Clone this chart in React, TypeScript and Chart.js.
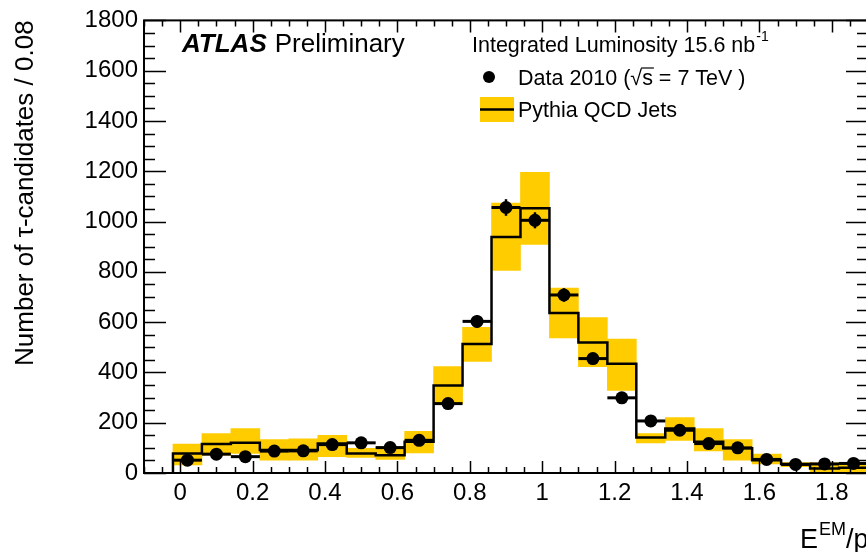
import React, { useEffect, useRef } from "react";
import { Chart, registerables } from "chart.js";

Chart.register(...registerables);

// ---- data ----
const binWidth = 0.08;
const binCenters = [
  0.02, 0.1, 0.18, 0.26, 0.34, 0.42, 0.5, 0.58, 0.66, 0.74, 0.82, 0.9,
  0.98, 1.06, 1.14, 1.22, 1.3, 1.38, 1.46, 1.54, 1.62, 1.7, 1.78, 1.86,
];
const mcValues = [
  78, 115, 120, 91, 91, 117, 78, 71, 124, 348, 513, 939,
  1053, 636, 519, 434, 141, 177, 124, 98, 51, 36, 18, 21,
];
const mcLow = [
  32, 71, 78, 51, 51, 65, 62, 54, 80, 276, 444, 806,
  909, 537, 423, 328, 120, 130, 88, 51, 36, 25, 5, 5,
];
const mcHigh = [
  115, 157, 177, 133, 136, 150, 98, 104, 166, 423, 579, 1073,
  1196, 735, 618, 533, 157, 220, 177, 133, 75, 41, 40, 40,
];
const dataValues = [
  51, 75, 65, 87, 88, 113, 120, 101, 130, 276, 603, 1056,
  1005, 708, 455, 299, 207, 170, 117, 100, 54, 34, 36, 38,
];
const dataErrors = [
  7, 9, 8, 9, 9, 11, 11, 10, 11, 17, 25, 33,
  32, 27, 21, 17, 14, 13, 11, 10, 7, 6, 6, 6,
];
const xTickValues = [0, 0.2, 0.4, 0.6, 0.8, 1, 1.2, 1.4, 1.6, 1.8];
const yTickValues = [0, 200, 400, 600, 800, 1000, 1200, 1400, 1600, 1800];

const FONT = "'Liberation Sans', Arial, Helvetica, sans-serif";
const YELLOW = "#ffcc00";
const CANVAS_W = 890;
const CANVAS_H = 552;

const framePlugin = {
  id: "rootFrame",
  afterDatasetsDraw(chart: any) {
    const { ctx, chartArea, scales } = chart;
    const { left, right, top, bottom } = chartArea;
    const x = scales.x;
    const y = scales.y;
    ctx.save();
    // data error bars
    ctx.strokeStyle = "#000";
    binCenters.forEach((c, i) => {
      const px = x.getPixelForValue(c);
      const py = y.getPixelForValue(dataValues[i]);
      ctx.lineWidth = 3;
      ctx.beginPath();
      ctx.moveTo(x.getPixelForValue(c - binWidth / 2), py);
      ctx.lineTo(x.getPixelForValue(c + binWidth / 2), py);
      ctx.stroke();
      ctx.lineWidth = 2.5;
      ctx.beginPath();
      ctx.moveTo(px, y.getPixelForValue(dataValues[i] - dataErrors[i]));
      ctx.lineTo(px, y.getPixelForValue(dataValues[i] + dataErrors[i]));
      ctx.stroke();
    });
    // frame
    ctx.lineWidth = 2;
    ctx.strokeRect(left, top, right - left, bottom - top);
    // ticks
    ctx.lineWidth = 1.5;
    ctx.beginPath();
    for (let k = -2; k <= 38; k++) {
      const v = k * 0.05;
      if (v < x.min - 1e-9 || v > x.max + 1e-9) continue;
      const px = Math.round(x.getPixelForValue(v)) + 0.5;
      const len = k % 4 === 0 ? 12 : 6;
      ctx.moveTo(px, bottom);
      ctx.lineTo(px, bottom - len);
      ctx.moveTo(px, top);
      ctx.lineTo(px, top + len);
    }
    for (let k = 0; k <= 36; k++) {
      const v = k * 50;
      const py = Math.round(y.getPixelForValue(v)) + 0.5;
      const len = k % 4 === 0 ? 22 : 11;
      ctx.moveTo(left, py);
      ctx.lineTo(left + len, py);
      ctx.moveTo(right, py);
      ctx.lineTo(right - len, py);
    }
    ctx.stroke();
    ctx.restore();
  },
};

const textPlugin = {
  id: "rootText",
  afterDraw(chart: any) {
    const ctx = chart.ctx;
    ctx.save();
    ctx.fillStyle = "#000";
    ctx.textAlign = "left";
    ctx.textBaseline = "alphabetic";

    // ATLAS Preliminary
    ctx.font = `italic bold 26px ${FONT}`;
    ctx.fillText("ATLAS", 182, 52);
    const aw = ctx.measureText("ATLAS").width;
    ctx.font = `26px ${FONT}`;
    ctx.fillText("Preliminary", 182 + aw + 8, 52);

    // luminosity
    ctx.font = `21.5px ${FONT}`;
    const lumi = "Integrated Luminosity 15.6 nb";
    ctx.fillText(lumi, 472, 52);
    const lw = ctx.measureText(lumi).width;
    ctx.font = `14px ${FONT}`;
    ctx.fillText("-1", 472 + lw + 1, 41);

    // legend: data
    ctx.beginPath();
    ctx.arc(489, 77, 6, 0, Math.PI * 2);
    ctx.fill();
    ctx.font = `21.5px ${FONT}`;
    const pre = "Data 2010 (";
    const full = "Data 2010 (\u221As = 7 TeV )";
    ctx.fillText(full, 518, 85);
    const wPre = ctx.measureText(pre + "\u221A").width;
    const wS = ctx.measureText("s").width;
    ctx.lineWidth = 1.2;
    ctx.beginPath();
    ctx.moveTo(518 + wPre - 1, 68);
    ctx.lineTo(518 + wPre + wS + 1, 68);
    ctx.stroke();

    // legend: MC
    ctx.fillStyle = YELLOW;
    ctx.fillRect(480, 97, 34, 25);
    ctx.strokeStyle = "#000";
    ctx.lineWidth = 2.5;
    ctx.beginPath();
    ctx.moveTo(480, 109.5);
    ctx.lineTo(514, 109.5);
    ctx.stroke();
    ctx.fillStyle = "#000";
    ctx.fillText("Pythia QCD Jets", 518, 117);

    // x-axis title
    ctx.font = `27px ${FONT}`;
    ctx.fillText("E", 800, 548);
    const ew = ctx.measureText("E").width;
    ctx.font = `18px ${FONT}`;
    ctx.fillText("EM", 800 + ew + 1, 535);
    const mw = ctx.measureText("EM").width;
    ctx.font = `27px ${FONT}`;
    ctx.fillText("/p", 800 + ew + 1 + mw, 548);
    ctx.restore();
  },
};

export default function App() {
  const ref = useRef<HTMLCanvasElement>(null);

  useEffect(() => {
    const canvas = ref.current;
    if (!canvas) return;
    const half = binWidth / 2;
    const mcPoints: { x: number; y: number }[] = [{ x: binCenters[0] - half, y: 0 }];
    binCenters.forEach((c, i) => mcPoints.push({ x: c - half, y: mcValues[i] }));
    const last = binCenters.length - 1;
    mcPoints.push({ x: binCenters[last] + half, y: mcValues[last] });

    const chart = new Chart(canvas, {
      type: "bar",
      data: {
        datasets: [
          {
            type: "bar",
            label: "MC band",
            data: binCenters.map((c, i) => ({ x: c, y: [mcLow[i], mcHigh[i]] })) as any,
            backgroundColor: YELLOW,
            borderWidth: 0,
            barPercentage: 1,
            categoryPercentage: 1,
            order: 3,
          } as any,
          {
            type: "line",
            label: "Pythia QCD Jets",
            data: mcPoints,
            stepped: true,
            borderColor: "#000",
            borderWidth: 2.5,
            pointRadius: 0,
            fill: false,
            order: 2,
          } as any,
          {
            type: "scatter",
            label: "Data 2010",
            data: binCenters.map((c, i) => ({ x: c, y: dataValues[i] })),
            pointRadius: 6.5,
            pointBackgroundColor: "#000",
            pointBorderWidth: 0,
            order: 1,
          } as any,
        ],
      },
      options: {
        responsive: false,
        animation: false,
        devicePixelRatio: 1,
        events: [],
        layout: { padding: { left: 0, top: 18, right: CANVAS_W - 868, bottom: 0 } },
        plugins: {
          legend: { display: false },
          tooltip: { enabled: false },
          title: { display: false },
        },
        scales: {
          x: {
            type: "linear",
            min: -0.1,
            max: 1.9,
            offset: false,
            grid: { display: false, drawTicks: false },
            border: { display: false },
            afterBuildTicks: (s: any) => {
              s.ticks = xTickValues.map((v) => ({ value: v }));
            },
            afterFit: (s: any) => {
              s.height = CANVAS_H - 473;
            },
            ticks: {
              autoSkip: false,
              maxRotation: 0,
              padding: 6,
              color: "#000",
              font: { family: FONT, size: 24 },
              callback: (v: any) => String(Math.round(Number(v) * 10) / 10),
            },
          },
          y: {
            type: "linear",
            min: 0,
            max: 1800,
            grid: { display: false, drawTicks: false },
            border: { display: false },
            afterBuildTicks: (s: any) => {
              s.ticks = yTickValues.map((v) => ({ value: v }));
            },
            afterFit: (s: any) => {
              s.width = 144;
            },
            ticks: {
              padding: 6,
              color: "#000",
              font: { family: FONT, size: 24 },
              callback: (v: any) => String(Math.round(Number(v))),
            },
            title: {
              display: true,
              text: "Number of \u03C4-candidates / 0.08",
              align: "end",
              color: "#000",
              font: { family: FONT, size: 26 },
              padding: { top: 10, bottom: 0 },
            },
          },
        },
      } as any,
      plugins: [framePlugin, textPlugin],
    });
    return () => chart.destroy();
  }, []);

  return (
    <div
      style={{
        position: "absolute",
        left: 0,
        top: 0,
        width: 866,
        height: 552,
        overflow: "hidden",
        background: "#fff",
      }}
    >
      <canvas ref={ref} width={CANVAS_W} height={CANVAS_H} style={{ display: "block" }} />
    </div>
  );
}
